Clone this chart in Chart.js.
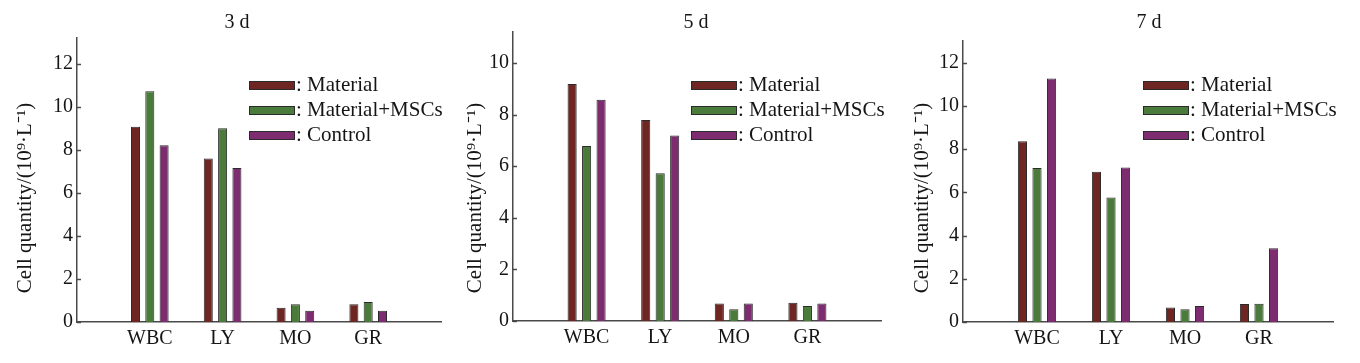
<!DOCTYPE html>
<html>
<head>
<meta charset="utf-8">
<script src="https://cdn.jsdelivr.net/npm/chart.js@4.4.0/dist/chart.umd.min.js"></script>
<style>
  body { margin: 0; background: #fff; }
  canvas { position: absolute; top: 0; }
</style>
</head>
<body>
<canvas id="day3" width="460" height="363" style="left:0"></canvas>
<canvas id="day5" width="450" height="363" style="left:460px"></canvas>
<canvas id="day7" width="450" height="363" style="left:910px"></canvas>
<script>
// ----- Data -----
const categories = ["WBC", "LY", "MO", "GR"];
const seriesNames = ["Material", "Material+MSCs", "Control"];
const seriesColors = ["#6d2622", "#4b7b3b", "#7d2c6f"];

const day3Material = [9.08, 7.6, 0.66, 0.82];
const day3MaterialMSCs = [10.73, 9.0, 0.82, 0.93];
const day3Control = [8.21, 7.16, 0.52, 0.52];

const day5Material = [9.18, 7.79, 0.68, 0.71];
const day5MaterialMSCs = [6.78, 5.73, 0.46, 0.58];
const day5Control = [8.57, 7.19, 0.68, 0.68];

const day7Material = [8.36, 6.95, 0.67, 0.83];
const day7MaterialMSCs = [7.12, 5.76, 0.59, 0.85];
const day7Control = [11.26, 7.15, 0.74, 3.41];

const ticks3 = [0, 2, 4, 6, 8, 10, 12];
const ticks5 = [0, 2, 4, 6, 8, 10];
const ticks7 = [0, 2, 4, 6, 8, 10, 12];

const yLabel = "Cell quantity/(10\u2079\u00b7L\u207b\u00b9)";
const textColor = "#151515";
const axisColor = "#4a4a4a";
const fontFamily = "'Liberation Serif', 'Times New Roman', serif";

// blank slot before and after the groups, like the original axis
const xLabels = ["", ...categories, ""];
const pad = arr => [null, ...arr, null];

// ----- Titles, y label, legend, inward ticks -----
const panelDecor = {
  id: "panelDecor",
  afterDraw(chart, args, opts) {
    const ctx = chart.ctx;
    const area = chart.chartArea;
    const y = chart.scales.y;
    ctx.save();

    ctx.strokeStyle = axisColor;
    ctx.lineWidth = 1.5;
    y.ticks.forEach(t => {
      const py = Math.round(y.getPixelForValue(t.value)) + 0.5;
      ctx.beginPath();
      ctx.moveTo(area.left, py);
      ctx.lineTo(area.left + 4, py);
      ctx.stroke();
    });

    ctx.fillStyle = textColor;
    ctx.font = "20px " + fontFamily;
    ctx.textAlign = "center";
    ctx.textBaseline = "middle";
    ctx.fillText(opts.title, opts.titleX, 23);

    ctx.save();
    ctx.translate(opts.labelX, 198);
    ctx.rotate(-Math.PI / 2);
    ctx.font = "21px " + fontFamily;
    ctx.fillText(yLabel, 0, 0);
    ctx.restore();

    ctx.textAlign = "left";
    ctx.font = "21px " + fontFamily;
    chart.data.datasets.forEach((ds, i) => {
      const ly = 85 + i * 25;
      const bx = area.left + opts.legendDx;
      ctx.fillStyle = ds.backgroundColor;
      ctx.fillRect(bx, ly - 4, 46, 9);
      ctx.strokeStyle = "#2b2b2b";
      ctx.lineWidth = 1;
      ctx.strokeRect(bx + 0.5, ly - 3.5, 45, 8);
      ctx.fillStyle = textColor;
      ctx.fillText(": " + ds.label, bx + 47, ly);
    });
    ctx.restore();
  }
};

function makeChart(id, values, tickValues, p) {
  const ctx = document.getElementById(id).getContext("2d");
  return new Chart(ctx, {
    type: "bar",
    data: {
      labels: xLabels,
      datasets: values.map((v, i) => ({
        label: seriesNames[i],
        data: pad(v),
        backgroundColor: seriesColors[i],
        borderColor: "#2b2b2b",
        borderWidth: 1,
        categoryPercentage: 0.59,
        barPercentage: 0.63,
      })),
    },
    options: {
      responsive: false,
      animation: false,
      devicePixelRatio: 1,
      layout: { padding: { top: p.top, right: p.right, left: 0, bottom: 0 } },
      plugins: {
        legend: { display: false },
        tooltip: { enabled: false },
        panelDecor: { title: p.title, titleX: p.titleX, labelX: p.labelX, legendDx: p.legendDx },
      },
      scales: {
        x: {
          offset: false,
          grid: { display: false, drawTicks: false },
          border: { display: true, color: axisColor, width: 1.5 },
          ticks: { color: textColor, font: { family: fontFamily, size: 20 }, padding: 5, maxRotation: 0, autoSkip: false },
          afterFit: s => { s.height = p.xHeight; },
        },
        y: {
          min: 0,
          max: p.yMax,
          grid: { display: false, drawTicks: false },
          border: { display: true, color: axisColor, width: 1.5 },
          ticks: { color: textColor, font: { family: fontFamily, size: 20 }, padding: 4 },
          afterBuildTicks: s => { s.ticks = tickValues.map(v => ({ value: v })); },
          afterFit: s => { s.width = p.yWidth; },
        },
      },
    },
    plugins: [panelDecor],
  });
}

makeChart("day3", [day3Material, day3MaterialMSCs, day3Control], ticks3,
  { title: "3 d", titleX: 237, labelX: 25, legendDx: 172, yMax: 13.2, top: 38, right: 19, yWidth: 77, xHeight: 41 });
makeChart("day5", [day5Material, day5MaterialMSCs, day5Control], ticks5,
  { title: "5 d", titleX: 236, labelX: 15, legendDx: 178, yMax: 11.2, top: 32, right: 29, yWidth: 53, xHeight: 42 });
makeChart("day7", [day7Material, day7MaterialMSCs, day7Control], ticks7,
  { title: "7 d", titleX: 239, labelX: 12, legendDx: 180, yMax: 13.0, top: 41, right: 27, yWidth: 53, xHeight: 41 });
</script>
</body>
</html>
